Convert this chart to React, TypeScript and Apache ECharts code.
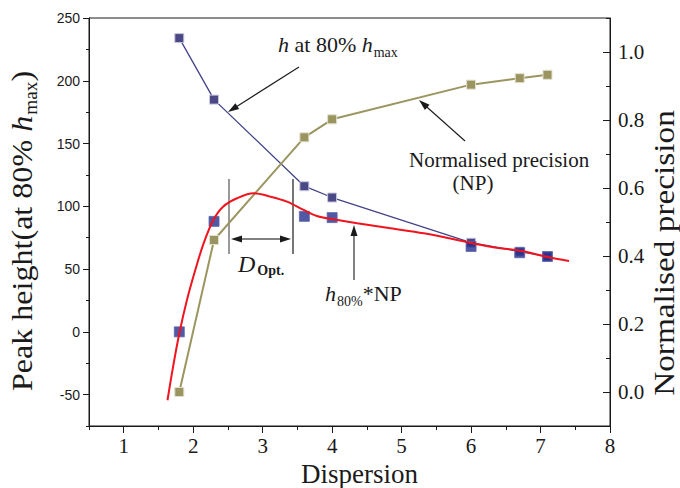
import React, { useEffect, useRef } from 'react';
import * as echarts from 'echarts';

const dispersion = [1.8, 2.3, 3.6, 4.0, 6.0, 6.7, 7.1];
const hAt80 = [234, 185, 116, 107, 71, 64, 60];
const normPrecision = [0.0, 0.447, 0.749, 0.802, 0.904, 0.923, 0.933];
const hTimesNP = [0, 88, 92, 91, 68, 63, 60];
const fitX = [1.63, 1.71, 1.8, 1.91, 2.03, 2.15, 2.29, 2.43, 2.63, 2.87, 3.11, 3.35, 3.59, 3.78, 4.02, 4.36, 4.84, 5.32, 5.8, 6.28, 6.71, 7.09, 7.41];
const fitY = [-54.5, -27.9, -1.3, 25.3, 49.2, 70.5, 89.1, 99.7, 106.4, 110.4, 107.7, 103.7, 97.1, 92.3, 89.7, 86.5, 82.5, 78.5, 73.2, 67.8, 64.6, 59.8, 56.4];
const xTicks = [1, 2, 3, 4, 5, 6, 7, 8];
const leftTicks = [-50, 0, 50, 100, 150, 200, 250];
const rightTicks = [0, 0.2, 0.4, 0.6, 0.8, 1.0];

const SERIF = "'Liberation Serif', 'Times New Roman', serif";
const SANS = "'Liberation Sans', Arial, sans-serif";
const INK = '#1a1a1a';

function arrow(x1: number, y1: number, x2: number, y2: number, color = INK, head = 11, hw = 3.5) {
  const dx = x2 - x1, dy = y2 - y1;
  const len = Math.sqrt(dx * dx + dy * dy);
  const ux = dx / len, uy = dy / len;
  const bx = x2 - ux * head, by = y2 - uy * head;
  const px = -uy * hw, py = ux * hw;
  return [
    { type: 'line', shape: { x1, y1, x2: bx + ux * 2, y2: by + uy * 2 }, style: { stroke: color, lineWidth: 1.1 }, silent: true },
    { type: 'polygon', shape: { points: [[x2, y2], [bx + px, by + py], [bx - px, by - py]] }, style: { fill: color }, silent: true },
  ];
}

function subRich(size: number, subSize: number, drop: number) {
  return {
    n: { fontFamily: SERIF, fontSize: size, lineHeight: size + 2, verticalAlign: 'top', color: INK },
    i: { fontFamily: SERIF, fontSize: size, fontStyle: 'italic', lineHeight: size + 2, verticalAlign: 'top', color: INK },
    s: { fontFamily: SERIF, fontSize: subSize, lineHeight: subSize, verticalAlign: 'top', padding: [drop, 0, 0, 1], color: INK },
    b: { fontFamily: SERIF, fontSize: subSize, fontWeight: 'bold', lineHeight: subSize, verticalAlign: 'top', padding: [drop, 0, 0, 2], color: INK },
  };
}

export default function App() {
  const ref = useRef<HTMLDivElement>(null);
  useEffect(() => {
    if (!ref.current) return;
    const chart = echarts.init(ref.current, undefined, { renderer: 'svg' });
    const axisLine = { show: true, onZero: false, lineStyle: { color: INK, width: 1 } };
    const hiddenLine = { show: false, onZero: false };
    const option: any = {
      animation: false,
      backgroundColor: '#ffffff',
      grid: {
        left: 89, right: 70, top: 18, bottom: 62, show: true, borderColor: INK, borderWidth: 1,
        outerBoundsMode: 'none', containLabel: false,
      },
      xAxis: [
        {
          type: 'value', min: 0.5, max: 8, interval: 0.5, position: 'bottom',
          axisLine, splitLine: { show: false },
          axisTick: { show: true, length: 4, lineStyle: { color: INK } },
          axisLabel: {
            formatter: (v: number) => (Number.isInteger(v) ? String(v) : ''),
            fontFamily: SERIF, fontSize: 21, color: INK, margin: 9,
          },
          name: 'Dispersion', nameLocation: 'middle', nameGap: 29,
          nameTextStyle: { fontFamily: SERIF, fontSize: 27, color: INK, verticalAlign: 'top', padding: [0, 0, 0, 20] },
        },
        {
          type: 'value', min: 0.5, max: 8, position: 'bottom',
          axisLine: hiddenLine, splitLine: { show: false }, axisLabel: { show: false },
          axisTick: { show: true, length: 7, customValues: xTicks, lineStyle: { color: INK } },
        },
      ],
      yAxis: [
        {
          type: 'value', min: -75, max: 250, interval: 25, position: 'left',
          axisLine, splitLine: { show: false },
          axisTick: { show: true, length: 3, lineStyle: { color: INK } },
          axisLabel: {
            formatter: (v: number) => (v % 50 === 0 ? String(v) : ''),
            fontFamily: SANS, fontSize: 14, color: INK, margin: 9,
          },
        },
        {
          type: 'value', min: -0.1, max: 1.1, interval: 0.1, position: 'right',
          axisLine, splitLine: { show: false },
          axisTick: { show: true, inside: true, length: 4, lineStyle: { color: INK } },
          axisLabel: {
            formatter: (v: number) => {
              const k = Math.round(v * 10);
              return k >= 0 && k % 2 === 0 ? (k / 10).toFixed(1) : '';
            },
            fontFamily: SERIF, fontSize: 21, color: INK, margin: 8,
          },
        },
        {
          type: 'value', min: -75, max: 250, position: 'left',
          axisLine: hiddenLine, splitLine: { show: false }, axisLabel: { show: false },
          axisTick: { show: true, length: 6, customValues: leftTicks, lineStyle: { color: INK } },
        },
        {
          type: 'value', min: -0.1, max: 1.1, position: 'right',
          axisLine: hiddenLine, splitLine: { show: false }, axisLabel: { show: false },
          axisTick: { show: true, inside: true, length: 7, customValues: rightTicks, lineStyle: { color: INK } },
        },
      ],
      series: [
        {
          name: 'h at 80% hmax', type: 'line', xAxisIndex: 0, yAxisIndex: 0,
          data: dispersion.map((x, i) => [x, hAt80[i]]),
          symbol: 'rect', symbolSize: 9,
          lineStyle: { color: '#434389', width: 1.3 },
          itemStyle: { color: '#4a4985', borderColor: '#c9c8de', borderWidth: 1 },
          z: 2,
        },
        {
          name: 'Normalised precision (NP)', type: 'line', xAxisIndex: 0, yAxisIndex: 1,
          data: dispersion.map((x, i) => [x, normPrecision[i]]),
          symbol: 'rect', symbolSize: 9,
          lineStyle: { color: '#9b9560', width: 2 },
          itemStyle: { color: '#9a9460', borderColor: '#e2e0cc', borderWidth: 1 },
          z: 2,
        },
        {
          name: 'h80%*NP data', type: 'scatter', xAxisIndex: 0, yAxisIndex: 0,
          data: dispersion.map((x, i) => [x, hTimesNP[i]]),
          symbol: 'rect', symbolSize: 10,
          itemStyle: { color: '#262f8f', borderColor: '#5d64aa', borderWidth: 1 },
          z: 3,
        },
        {
          name: 'h80%*NP fit', type: 'line', xAxisIndex: 0, yAxisIndex: 0,
          data: fitX.map((x, i) => [x, fitY[i]]),
          smooth: 0.35, showSymbol: false, symbol: 'none',
          lineStyle: { color: '#f0141e', width: 2 },
          z: 4,
        },
      ],
      graphic: [
        {
          type: 'text', x: 23, y: 231, rotation: Math.PI / 2, scaleX: 1.07,
          style: {
            text: '{n|Peak height(at 80% }{i|h}{s|max}{n|)}', rich: subRich(30, 18, 15),
            align: 'center', verticalAlign: 'middle', fill: INK,
          },
          silent: true,
        },
        {
          type: 'text', x: 664, y: 253, rotation: Math.PI / 2, scaleX: 1.11,
          style: {
            text: 'Normalised precision', fontFamily: SERIF, fontSize: 30,
            align: 'center', verticalAlign: 'middle', fill: INK,
          },
          silent: true,
        },
        {
          type: 'text', x: 278, y: 33,
          style: { text: '{i|h}{n| at 80%}{i| h}{s|max}', rich: subRich(22, 14, 12), fill: INK },
          silent: true,
        },
        ...arrow(299, 67, 228, 112),
        {
          type: 'text', x: 409, y: 149,
          style: { text: 'Normalised precision', fontFamily: SERIF, fontSize: 21, fill: INK },
          silent: true,
        },
        {
          type: 'text', x: 473, y: 172,
          style: { text: '(NP)', fontFamily: SERIF, fontSize: 21, fill: INK, align: 'center' },
          silent: true,
        },
        ...arrow(465, 141, 419, 100),
        { type: 'line', shape: { x1: 229, y1: 179, x2: 229, y2: 254 }, style: { stroke: '#555555', lineWidth: 1.2 }, silent: true },
        { type: 'line', shape: { x1: 293, y1: 179, x2: 293, y2: 254 }, style: { stroke: INK, lineWidth: 1.2 }, silent: true },
        ...arrow(261, 239, 231, 239),
        ...arrow(261, 239, 291, 239),
        {
          type: 'text', x: 238, y: 252,
          style: { text: '{i|D}{b|Opt.}', rich: subRich(24, 14, 11), fill: INK },
          silent: true,
        },
        ...arrow(354, 280, 354, 225),
        {
          type: 'text', x: 325, y: 282,
          style: { text: '{i|h}{s|80%}{n|*NP}', rich: subRich(22, 14, 12), fill: INK },
          silent: true,
        },
      ],
    };
    chart.setOption(option);
    return () => chart.dispose();
  }, []);
  return <div ref={ref} style={{ width: 680, height: 488, position: 'absolute', left: 0, top: 0 }} />;
}
